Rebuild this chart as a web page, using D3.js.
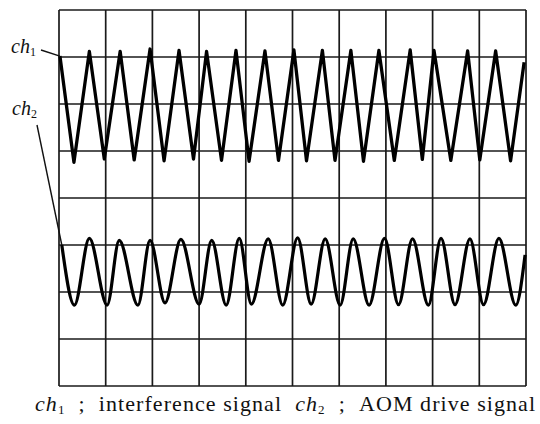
<!DOCTYPE html>
<html>
<head>
<meta charset="utf-8">
<script src="https://cdn.jsdelivr.net/npm/d3@7/dist/d3.min.js"></script>
<style>
  html, body { margin: 0; padding: 0; background: #fff; }
  svg { display: block; }
</style>
</head>
<body>
<div id="chart"></div>
<script>
// screen divisions (oscilloscope graticule)
const xDivs = [0, 1, 2, 3, 4, 5, 6, 7, 8, 9, 10];
const yDivs = [-4, -3, -2, -1, 0, 1, 2, 3, 4];

// ch1: interference signal (turning points, in divisions)
const ch1T = [0.02, 0.32, 0.65, 0.97, 1.31, 1.61, 1.95, 2.25, 2.57, 2.88, 3.16, 3.48, 3.79, 4.07, 4.41, 4.70,
  5.03, 5.30, 5.64, 5.91, 6.25, 6.52, 6.85, 7.18, 7.52, 7.78, 8.03, 8.39, 8.75, 9.01, 9.35, 9.67, 9.96];
const ch1V = [3.02, 0.76, 3.12, 0.83, 3.12, 0.81, 3.17, 0.79, 3.14, 0.83, 3.12, 0.80, 3.14, 0.78, 3.13, 0.80,
  3.15, 0.79, 3.14, 0.80, 3.14, 0.78, 3.14, 0.80, 3.15, 0.82, 3.14, 0.80, 3.13, 0.81, 3.13, 0.79, 2.89];

// ch2: AOM drive signal
const ch2T = [0.06, 0.33, 0.65, 1.03, 1.29, 1.69, 1.95, 2.27, 2.61, 3.00, 3.27, 3.58, 3.86, 4.12, 4.48, 4.79,
  5.11, 5.40, 5.70, 6.02, 6.30, 6.64, 6.97, 7.27, 7.57, 7.91, 8.18, 8.48, 8.80, 9.09, 9.42, 9.78, 9.98];
const ch2V = [-1.00, -2.28, -0.86, -2.28, -0.90, -2.28, -0.90, -2.23, -0.88, -2.26, -0.90, -2.28, -0.86, -2.26, -0.87, -2.28,
  -0.85, -2.26, -0.87, -2.28, -0.87, -2.28, -0.86, -2.27, -0.87, -2.28, -0.86, -2.27, -0.87, -2.27, -0.86, -2.28, -1.21];

const W = 540, H = 424;
const box = { left: 59, right: 526, top: 10, bottom: 386 };
const serif = "'Liberation Serif', 'DejaVu Serif', serif";

const svg = d3.select("#chart").append("svg")
    .attr("width", W)
    .attr("height", H);

const x = d3.scaleLinear().domain([0, 10]).range([box.left, box.right]);
const y = d3.scaleLinear().domain([-4, 4]).range([box.bottom, box.top]);

// graticule
const grid = svg.append("g").attr("stroke", "#1a1a1a").attr("stroke-width", 1.7);
grid.selectAll("line.v")
  .data(xDivs)
  .enter().append("line")
    .attr("class", "v")
    .attr("x1", d => x(d)).attr("x2", d => x(d))
    .attr("y1", y(4)).attr("y2", y(-4));
grid.selectAll("line.h")
  .data(yDivs)
  .enter().append("line")
    .attr("class", "h")
    .attr("x1", x(0)).attr("x2", x(10))
    .attr("y1", d => y(d)).attr("y2", d => y(d));

// traces
const ch1 = ch1T.map((t, i) => ({ t, v: ch1V[i] }));
const ch2 = ch2T.map((t, i) => ({ t, v: ch2V[i] }));

const line1 = d3.line().x(d => x(d.t)).y(d => y(d.v)).curve(d3.curveLinear);
const line2 = d3.line().x(d => x(d.t)).y(d => y(d.v)).curve(d3.curveMonotoneX);

svg.append("path")
    .datum(ch1)
    .attr("d", line1)
    .attr("fill", "none")
    .attr("stroke", "#000")
    .attr("stroke-width", 3.3)
    .attr("stroke-linejoin", "round");

svg.append("path")
    .datum(ch2)
    .attr("d", line2)
    .attr("fill", "none")
    .attr("stroke", "#000")
    .attr("stroke-width", 3.2)
    .attr("stroke-linejoin", "round");

// channel labels with leader lines
function chLabel(tx, ty, sub) {
  const t = svg.append("text")
      .attr("x", tx).attr("y", ty)
      .style("font-family", serif)
      .style("font-size", "20px")
      .style("font-style", "italic")
      .attr("fill", "#111");
  t.append("tspan").text("ch");
  t.append("tspan").attr("dy", 3).style("font-size", "12px").style("font-style", "normal").text(sub);
}

chLabel(11, 53, "1");
svg.append("line")
    .attr("x1", 41).attr("y1", 50)
    .attr("x2", x(ch1[0].t)).attr("y2", y(ch1[0].v))
    .attr("stroke", "#111").attr("stroke-width", 1.4);

chLabel(12, 115, "2");
svg.append("line")
    .attr("x1", 37).attr("y1", 125)
    .attr("x2", x(ch2[0].t)).attr("y2", y(ch2[0].v))
    .attr("stroke", "#111").attr("stroke-width", 1.4);

// caption
const nb = "\u00a0";
const cap = svg.append("text")
    .attr("x", 35).attr("y", 411)
    .attr("textLength", 500)
    .attr("lengthAdjust", "spacing")
    .style("font-family", serif)
    .style("font-size", "22px")
    .attr("fill", "#111");
cap.append("tspan").style("font-style", "italic").text("ch");
cap.append("tspan").attr("dy", 3).style("font-size", "13px").text("1");
cap.append("tspan").attr("dy", -3).text(nb + nb + ";" + nb + nb + "interference signal" + nb + nb);
cap.append("tspan").style("font-style", "italic").text("ch");
cap.append("tspan").attr("dy", 3).style("font-size", "13px").text("2");
cap.append("tspan").attr("dy", -3).text(nb + nb + ";" + nb + nb + "AOM drive signal");
</script>
</body>
</html>
